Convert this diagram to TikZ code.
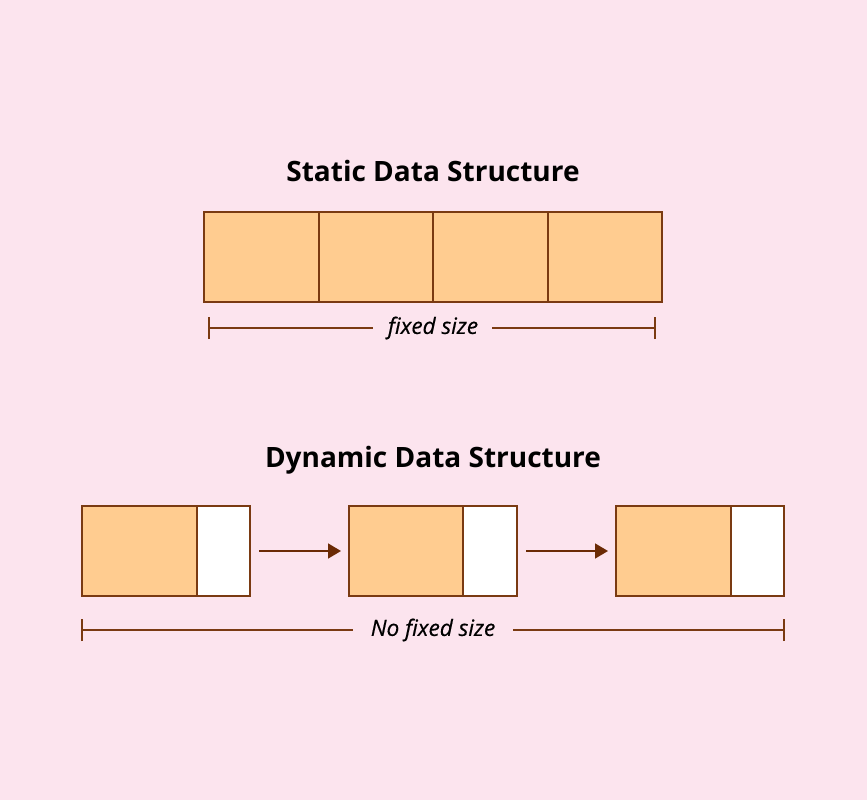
\documentclass[tikz,border=0pt]{standalone}
\usepackage{fontspec}
\setmainfont{Open Sans}
\newfontfamily\medfont{Open Sans}[FakeBold=0.4]
\usetikzlibrary{arrows.meta}
\definecolor{bgpink}{HTML}{FCE4EE}
\definecolor{cellfill}{HTML}{FFCC90}
\definecolor{edge}{HTML}{7A3A12}
\definecolor{arrowc}{HTML}{6B2A05}
\tikzset{
  cell/.style={draw=edge, line width=1.3pt, fill=cellfill, minimum height=90pt, inner sep=0pt, outer sep=0pt, anchor=north west},
  ptrcell/.style={cell, fill=white},
  title/.style={font=\fontsize{28}{32}\selectfont\bfseries, text=black},
  measure/.style={font=\fontsize{22.5}{26}\selectfont\medfont\itshape, text=black},
  dimline/.style={draw=edge, line width=1.3pt},
  link/.style={draw=arrowc, line width=1.6pt, -{Triangle[length=13pt,width=15pt]}}
}
\begin{document}
\begin{tikzpicture}[x=1pt,y=-1pt]
\fill[bgpink] (0,0) rectangle (867,800);
\useasboundingbox (0,0) rectangle (867,800);
% Static
\node[title] (t1) at (433,171) {Static Data Structure};
\node[cell, minimum width=115pt] (s1) at (204,212) {};
\node[cell, minimum width=114pt] (s2) at (319,212) {};
\node[cell, minimum width=115pt] (s3) at (433,212) {};
\node[cell, minimum width=114pt] (s4) at (548,212) {};
\node[measure] (fs) at (433,328) {fixed size};
\coordinate (fa) at (209,328);
\coordinate (fb) at (655,328);
\coordinate (fc) at (373,328);
\coordinate (fd) at (492,328);
\draw[dimline] (fa) -- (fc) (fd) -- (fb);
\draw[dimline] ([yshift=-11pt]fa) -- ([yshift=11pt]fa);
\draw[dimline] ([yshift=-11pt]fb) -- ([yshift=11pt]fb);
% Dynamic
\node[title] (t2) at (433,460) {Dynamic Data Structure};
\node[cell, minimum width=115pt] (d1) at (82,506) {};
\node[ptrcell, minimum width=53pt] (p1) at (197,506) {};
\node[cell, minimum width=114pt] (d2) at (349,506) {};
\node[ptrcell, minimum width=54pt] (p2) at (463,506) {};
\node[cell, minimum width=115pt] (d3) at (616,506) {};
\node[ptrcell, minimum width=53pt] (p3) at (731,506) {};
\draw[link] ([xshift=9pt]p1.east) -- ([xshift=-8pt]d2.west);
\draw[link] ([xshift=9pt]p2.east) -- ([xshift=-8pt]d3.west);
\node[measure] (nfs) at (433,630) {No fixed size};
\coordinate (na) at (82,630);
\coordinate (nb) at (784,630);
\coordinate (nc) at (353,630);
\coordinate (nd) at (513,630);
\draw[dimline] (na) -- (nc) (nd) -- (nb);
\draw[dimline] ([yshift=-11pt]na) -- ([yshift=11pt]na);
\draw[dimline] ([yshift=-11pt]nb) -- ([yshift=11pt]nb);
\end{tikzpicture}
\end{document}
